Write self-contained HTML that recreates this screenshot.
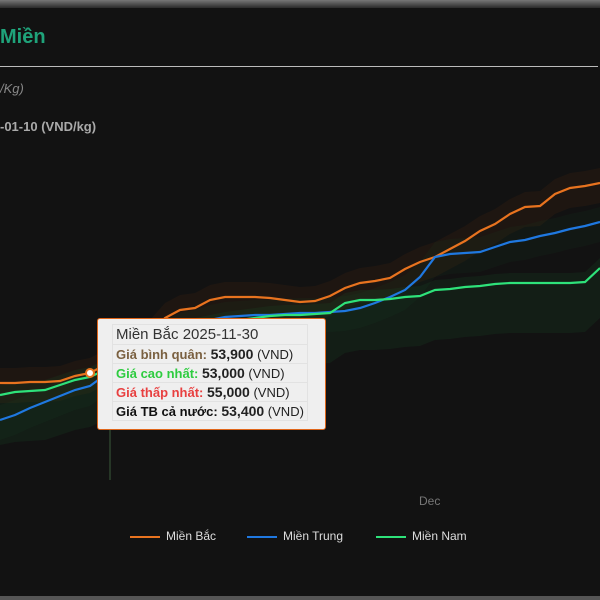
<!DOCTYPE html>
<html><head><meta charset="utf-8"><style>
body{margin:0;background:#121212;width:600px;height:600px;overflow:hidden;font-family:"Liberation Sans",sans-serif;position:relative}
.abs{position:absolute}
#tip{left:97px;top:318px;width:227px;height:110px;background:#efefef;border:1px solid #e0661a;border-radius:3px}
#tip table{position:absolute;left:14px;top:5px;border-collapse:collapse;font-size:13px}
#tip td{border:1px solid #e2e2e2;padding:1px 3px;white-space:nowrap;color:#222}
</style></head><body>
<div class="abs" style="left:0;top:0;width:600px;height:8px;background:linear-gradient(#777,#2a2a2a)"></div>
<div class="abs" style="left:0;top:26px;color:#1fa37a;font-weight:bold;font-size:20px">Miền</div>
<div class="abs" style="left:0;top:66px;width:598px;height:1px;background:#bbb"></div>
<div class="abs" style="left:0;top:81px;color:#888;font-style:italic;font-size:13px">/Kg)</div>
<div class="abs" style="left:0;top:119px;color:#aaa;font-weight:bold;font-size:13px">-01-10 (VND/kg)</div>
<svg class="abs" style="left:0;top:0" width="600" height="600" id="chart"></svg>
<div class="abs" id="tip"><table>
<tr><td style="font-size:15px;color:#333">Miền Bắc 2025-11-30</td></tr>
<tr><td><b style="color:#7a6040">Giá bình quân:</b> <b style="font-size:14px">53,900</b> (VND)</td></tr>
<tr><td><b style="color:#2ecc40">Giá cao nhất:</b> <b style="font-size:14px">53,000</b> (VND)</td></tr>
<tr><td><b style="color:#e84040">Giá thấp nhất:</b> <b style="font-size:14px">55,000</b> (VND)</td></tr>
<tr><td><b style="color:#111">Giá TB cả nước:</b> <b style="font-size:14px">53,400</b> (VND)</td></tr>
</table></div>
<div class="abs" style="left:419px;top:494px;color:#777;font-size:12px">Dec</div>
<div class="abs" style="left:130px;top:529px;color:#ddd;font-size:12px"><span style="display:inline-block;width:30px;height:2px;background:#e8731f;vertical-align:middle;margin-right:6px"></span>Miền Bắc</div>
<div class="abs" style="left:247px;top:529px;color:#ddd;font-size:12px"><span style="display:inline-block;width:30px;height:2px;background:#1f78e0;vertical-align:middle;margin-right:6px"></span>Miền Trung</div>
<div class="abs" style="left:376px;top:529px;color:#ddd;font-size:12px"><span style="display:inline-block;width:30px;height:2px;background:#2ee27a;vertical-align:middle;margin-right:6px"></span>Miền Nam</div>
<div class="abs" style="left:0;top:596px;width:600px;height:4px;background:#555"></div>
<script>
const bac=[53.7,53.7,53.8,53.8,53.9,54.4,54.7,55.5,56.5,57.5,58.5,60.2,61.0,61.2,62.0,62.3,62.3,62.3,62.2,62.0,61.8,61.9,62.4,63.2,63.7,63.9,64.2,65.1,65.8,66.3,67.1,67.9,68.9,69.6,70.6,71.3,71.4,72.6,73.2,73.4,73.7];
const trung=[50.0,50.5,51.2,51.8,52.4,53.0,53.4,54.5,55.5,56.5,57.5,58.5,59.2,59.5,60.0,60.3,60.4,60.5,60.5,60.6,60.7,60.7,60.8,60.9,61.2,61.7,62.3,63.0,64.3,66.3,66.6,66.7,66.8,67.3,67.8,68.0,68.4,68.7,69.1,69.4,69.8];
const nam=[52.5,52.8,52.9,53.0,53.5,54.0,54.3,55.0,55.8,56.5,57.2,58.0,58.7,59.2,59.5,59.8,60.0,60.2,60.4,60.5,60.5,60.6,60.7,61.7,62.0,62.0,62.1,62.3,62.4,63.0,63.1,63.3,63.4,63.6,63.7,63.7,63.7,63.7,63.7,63.8,65.2];
const hoverIndex=6;
const NS="http://www.w3.org/2000/svg",svg=document.getElementById('chart');
const X=i=>i*15, Y=v=>420-(v-50)*10;
function band(arr,up,dn,col,name){const p=document.createElementNS(NS,'path');let d='';arr.forEach((v,i)=>d+=(i?'L':'M')+X(i)+','+Y(v+up));for(let i=arr.length-1;i>=0;i--)d+='L'+X(i)+','+Y(arr[i]-dn);p.setAttribute('d',d+'Z');p.setAttribute('fill',col);


svg.appendChild(p);}
function line(arr,col,name){const p=document.createElementNS(NS,'path');p.setAttribute('d',arr.map((v,i)=>(i?'L':'M')+X(i)+','+Y(v)).join(''));p.setAttribute('fill','none');p.setAttribute('stroke',col);p.setAttribute('stroke-width','2.2');


svg.appendChild(p);}
band(bac,1.5,2,'rgba(90,45,15,0.18)','band-mien-bac');
band(nam,1,5,'rgba(25,80,40,0.2)','band-mien-nam');
band(trung,1.5,2,'rgba(25,70,40,0.12)','band-mien-trung');
const cl=document.createElementNS(NS,'line');cl.setAttribute('x1',110);cl.setAttribute('x2',110);cl.setAttribute('y1',428);cl.setAttribute('y2',480);cl.setAttribute('stroke','#3a5a3a');


svg.appendChild(cl);
line(bac,'#e8731f','line-mien-bac');line(trung,'#1f78e0','line-mien-trung');line(nam,'#2ee27a','line-mien-nam');
const c=document.createElementNS(NS,'circle');c.setAttribute('cx',X(hoverIndex));c.setAttribute('cy',Y(bac[hoverIndex]));c.setAttribute('r',4);c.setAttribute('fill','#fff');c.setAttribute('stroke','#e8731f');c.setAttribute('stroke-width',2);


svg.appendChild(c);
</script>
</body></html>
